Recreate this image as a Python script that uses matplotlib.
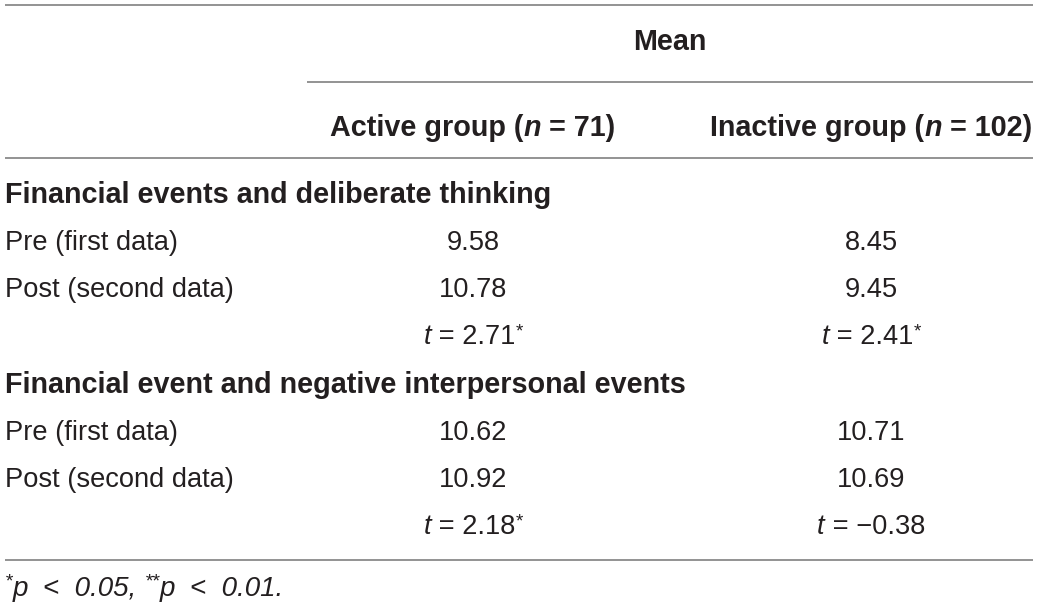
import matplotlib
matplotlib.use("Agg")
import matplotlib.pyplot as plt

plt.rcParams['font.family'] = ['Liberation Sans', 'DejaVu Sans']

W, H = 1039, 609

group_names = ["Active group", "Inactive group"]
group_n = [71, 102]
sections = ["Financial events and deliberate thinking",
            "Financial event and negative interpersonal events"]
row_labels = ["Pre (first data)", "Post (second data)"]
active_vals = [["9.58", "10.78"], ["10.62", "10.92"]]
inactive_vals = [["8.45", "9.45"], ["10.71", "10.69"]]
active_t = [("2.71", "*"), ("2.18", "*")]
inactive_t = [("2.41", "*"), ("\u22120.38", "")]

fig = plt.figure(figsize=(W / 100, H / 100), dpi=100)
ax = fig.add_axes([0, 0, 1, 1])
ax.set_xlim(0, W)
ax.set_ylim(H, 0)
ax.axis('off')
fig.canvas.draw()
rend = fig.canvas.get_renderer()

FS = 19.6   # regular text
FB = 20.7   # bold text
TXT = '#231f20'
LINE = '#8a8a8a'


def runs(x, y, parts, ha='left'):
    # parts: (text, weight, style, size, dy)
    widths = []
    for s, wt, st, sz, dy in parts:
        t = ax.text(0, 0, s, fontsize=sz, fontweight=wt, fontstyle=st)
        widths.append(t.get_window_extent(rend).width)
        t.remove()
    total = sum(widths)
    if ha == 'center':
        x = x - total / 2
    elif ha == 'right':
        x = x - total
    for (s, wt, st, sz, dy), w in zip(parts, widths):
        ax.text(x, y + dy, s, fontsize=sz, fontweight=wt, fontstyle=st,
                color=TXT, va='center', ha='left')
        x += w


def hline(y, x0=5, x1=1033):
    ax.plot([x0, x1], [y, y], color=LINE, lw=1.3, solid_capstyle='butt')


col_x = [473, 871]

hline(5)
runs(670, 42, [("Mean", 'bold', 'normal', FB, 0)], ha='center')
hline(82, x0=307)
for cx, g, n in zip(col_x, group_names, group_n):
    runs(cx, 128, [(g + " (", 'bold', 'normal', FB, 0),
                   ("n", 'bold', 'italic', FB, 0),
                   (" = %d)" % n, 'bold', 'normal', FB, 0)], ha='center')
hline(158)

y0 = [195, 385]
for k, sec in enumerate(sections):
    y = y0[k]
    runs(5, y, [(sec, 'bold', 'normal', FB, 0)])
    for j, lab in enumerate(row_labels):
        yy = y + 47.5 * (j + 1)
        runs(5, yy, [(lab, 'normal', 'normal', FS, 0)])
        runs(col_x[0], yy, [(active_vals[k][j], 'normal', 'normal', FS, 0)], ha='center')
        runs(col_x[1], yy, [(inactive_vals[k][j], 'normal', 'normal', FS, 0)], ha='center')
    yy = y + 47.5 * 3
    for cx, (v, star) in zip(col_x, [active_t[k], inactive_t[k]]):
        parts = [("t", 'normal', 'italic', FS, 0),
                 (" = " + v, 'normal', 'normal', FS, 0)]
        if star:
            parts.append((star, 'normal', 'normal', FS * 0.7, -6))
        runs(cx, yy, parts, ha='center')

hline(560)
FN = 20
runs(5, 589, [("*", 'normal', 'italic', FN * 0.7, -7),
              ("p  <  0.05, ", 'normal', 'italic', FN, 0),
              ("**", 'normal', 'italic', FN * 0.7, -7),
              ("p  <  0.01.", 'normal', 'italic', FN, 0)])

fig.savefig("out.png", dpi=100)
